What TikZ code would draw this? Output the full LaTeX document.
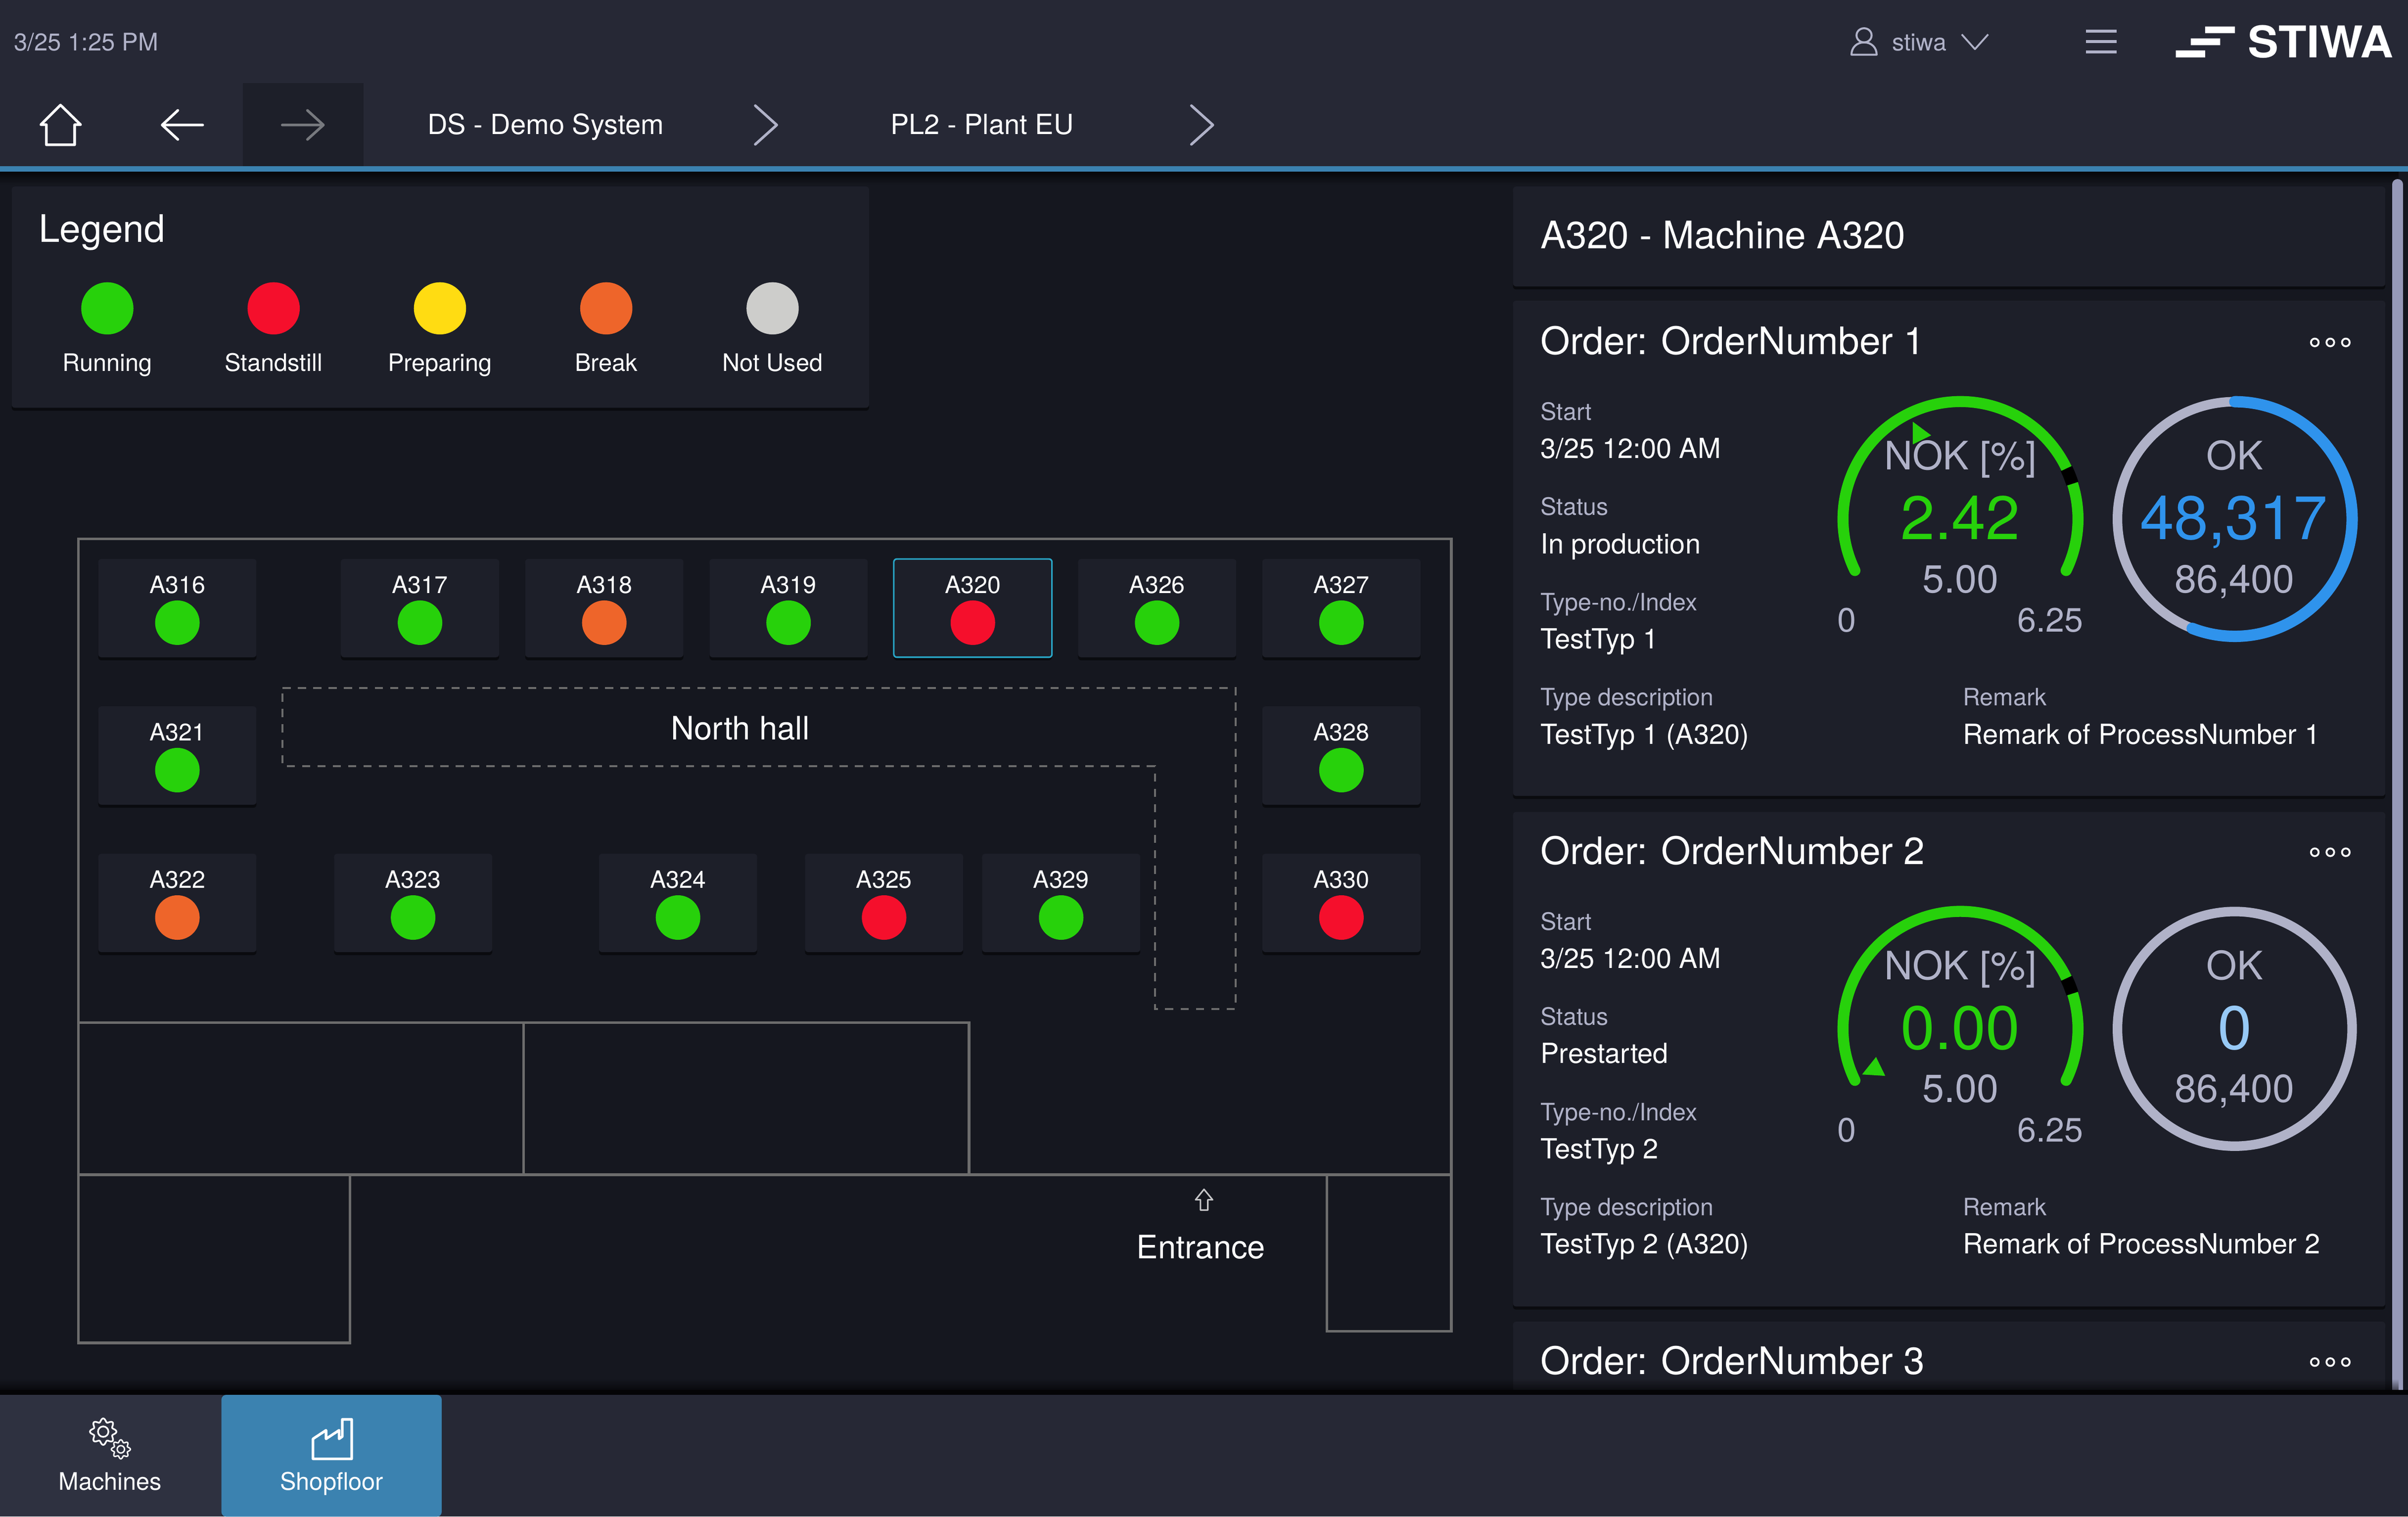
\documentclass[tikz,border=0pt]{standalone}
\usepackage{fontspec}
\setmainfont{TeX Gyre Heros}
\usetikzlibrary{positioning,shadows,fadings}

\definecolor{floorbg}{HTML}{15171F}
\definecolor{cardbg}{HTML}{1D1F29}
\definecolor{barbg}{HTML}{262835}
\definecolor{tabbg}{HTML}{2E3140}
\definecolor{accent}{HTML}{3B82B0}
\definecolor{muted}{HTML}{B0B2C8}
\definecolor{scrollc}{HTML}{9699B8}
\definecolor{planline}{HTML}{6C6C6C}
\definecolor{runc}{HTML}{27D10B}
\definecolor{stopc}{HTML}{F50F2C}
\definecolor{prepc}{HTML}{FFDC12}
\definecolor{breakc}{HTML}{EE652A}
\definecolor{idlec}{HTML}{CDCDCB}
\definecolor{okblue}{HTML}{2F93EC}

\begin{document}
\begin{tikzpicture}[x=1pt,y=-1pt,node distance=120pt,on grid,
  txt/.style={font=\fontsize{#1}{#1}\selectfont,inner sep=0pt,text height=0.72*#1pt,text depth=0pt,text=white},
  lbl/.style={txt=15.6,text=muted,anchor=west},
  val/.style={txt=18.05,anchor=west},
  head/.style={txt=24.7,anchor=west},
  dial/.style={txt=25.5,text=muted},
  scale text/.style={txt=22,text=muted},
  card/.style={rectangle,fill=cardbg,rounded corners=2pt,anchor=north west,inner sep=0pt,
    drop shadow={shadow xshift=0pt,shadow yshift=-2pt,fill=black,opacity=.5}},
  lamp/.style={circle,fill=#1,inner sep=0pt,minimum size=29pt},
  leglamp/.style={circle,fill=#1,inner sep=0pt,minimum size=34pt},
  machine/.style={card,anchor=center,minimum width=103pt,minimum height=64pt,
    font=\fontsize{15.6}{15.6}\selectfont,text=white,text height=12pt,text depth=31.4pt,
    label={[lamp=#1,yshift=-9.5pt]center:{}}},
  plan/.style={draw=planline,line width=1.7pt},
  hall/.style={draw=planline,line width=1.4pt,dash pattern=on 5.3pt off 4.7pt},
  navline/.style={line width=1.7pt,line cap=round,line join=round},
  arcgreen/.style={draw=runc,line width=7.2pt,line cap=round},
  morepoint/.style={circle,draw=white,line width=1.2pt,inner sep=0pt,minimum size=5pt}]

  \useasboundingbox (0,0) rectangle (1568,987.6);
  \fill[floorbg] (0,0) rectangle (1568,987.6);

  % top bar
  \fill[barbg] (0,0) rectangle (1568,108.3);
  \fill[cardbg] (158,54.2) rectangle (236.6,108.3);
  \fill[accent] (0,108.3) rectangle (1568,111.8);
  \fill[black,path fading=south,opacity=.7] (0,111.8) rectangle (1568,120);
  \path
  node[txt=15.8,text=muted,anchor=west] (clock) at (9,27.3) {3/25 1:25 PM}
  node[txt=18.05] (crumbDS) at (355.3,81) {DS - Demo System}
  node[txt=18.05] (crumbPL) at (639.5,81) {PL2 - Plant EU}
  node[txt=15.6,text=muted,anchor=west] (user) at (1232,27.3) {stiwa}
  node[txt=28.5,font=\fontsize{28.5}{28.5}\selectfont\bfseries] (brand) at (1511.2,27.4) {\scalebox{1.05}[1]{STIWA}}
  ;
  \draw[white,navline] (30.2,94.3) -- (48.6,94.3) -- (48.6,81.2) -- (52.5,81.2) -- (39.4,68.4) -- (26.6,81.2) -- (30.2,81.2) -- cycle;
  \draw[white,navline] (132,81.4) -- (105.6,81.4) (115.8,71.9) -- (105.6,81.4) -- (115.8,90.8);
  \draw[white!40!cardbg,navline] (183.8,81.4) -- (210.6,81.4) (200.2,71.9) -- (210.6,81.4) -- (200.2,90.8);
  \draw[muted,navline] (491.8,68.8) -- (505.8,81.4) -- (491.8,94);
  \draw[muted,navline] (775.8,68.8) -- (789.8,81.4) -- (775.8,94);
  \draw[muted,line width=1.3pt] (1213.8,23) ellipse (4.9 and 4.6);
  \draw[muted,line width=1.3pt,line join=round] (1205.6,35.6) .. controls (1205.6,31) and (1209,27.6) .. (1213.8,27.6) .. controls (1218.6,27.6) and (1222,31) .. (1222,35.6) -- cycle;
  \draw[muted,line width=1.2pt,line join=round] (1277.4,22.4) -- (1286,32) -- (1294.6,22.4);
  \draw[muted,line width=2pt] (1358.3,20.4) -- (1378.2,20.4) (1358.3,27) -- (1378.2,27) (1358.3,33.8) -- (1378.2,33.8);
  \fill[white] (1416.8,32.8) rectangle (1435.9,37.4) (1426.5,25) rectangle (1445.7,29.4) (1435.9,17.3) rectangle (1455.3,21.6);

  % legend
  \node[card,minimum width=558.3pt,minimum height=144pt] (legendcard) at (7.4,121.3) {};
  \path
  node[head] (legendhead) at (25,148.7) {Legend}
  node[leglamp=runc] (legrun) at (69.9,200.8) {}
  node[leglamp=stopc] (legstop) [right=108.3pt of legrun] {}
  node[leglamp=prepc] (legprep) [right=108.3pt of legstop] {}
  node[leglamp=breakc] (legbreak) [right=108.3pt of legprep] {}
  node[leglamp=idlec] (legidle) [right=108.3pt of legbreak] {}
  node[txt=15.7] (legruntxt) [below=35.3pt of legrun] {Running}
  node[txt=15.7] (legstoptxt) [below=35.3pt of legstop] {Standstill}
  node[txt=15.7] (legpreptxt) [below=35.3pt of legprep] {Preparing}
  node[txt=15.7] (legbreaktxt) [below=35.3pt of legbreak] {Break}
  node[txt=15.7] (legidletxt) [below=35.3pt of legidle] {Not Used}
  ;

  % floor plan
  \draw[plan] (51,765) -- (51,351) -- (945,351) -- (945,867) -- (864,867) -- (864,765);
  \draw[plan] (51,666) -- (631,666) -- (631,765) (341,666) -- (341,765);
  \draw[plan] (945,765) -- (51,765) -- (51,874.5) -- (228,874.5) -- (228,765);
  \draw[hall] (184,448) -- (804.5,448) -- (804.5,657) -- (752,657) -- (752,499) -- (184,499) -- cycle;
  \draw[white!75!floorbg,line width=1pt,line join=round] (781.7,788) -- (786.5,788) -- (786.5,781.3) -- (789.6,781.3) -- (784,774.5) -- (778.5,781.3) -- (781.7,781.3) -- cycle;
  \path
  node[txt=21] (northhall) at (482,474) {North hall}
  node[txt=21] (entrance) at (782,812) {Entrance}
  ;

  % machines
  \path
  node[machine=runc] (a316) at (115.5,396) {A316}
  node[machine=runc] (a317) at (273.5,396) {A317}
  node[machine=breakc] (a318) [right=of a317] {A318}
  node[machine=runc] (a319) [right=of a318] {A319}
  node[machine=stopc,draw=accent!70!cyan,line width=1pt] (a320) [right=of a319] {A320}
  node[machine=runc] (a326) [right=of a320] {A326}
  node[machine=runc] (a327) [right=of a326] {A327}
  node[machine=runc] (a321) [below=96pt of a316] {A321}
  node[machine=runc] (a328) [below=96pt of a327] {A328}
  node[machine=breakc] (a322) [below=96pt of a321] {A322}
  node[machine=runc] (a323) at (269,588) {A323}
  node[machine=runc] (a324) at (441.5,588) {A324}
  node[machine=stopc] (a325) at (575.7,588) {A325}
  node[machine=runc] (a329) at (691,588) {A329}
  node[machine=stopc] (a330) [below=96pt of a328] {A330}
  ;

  % right column
  \node[card,minimum width=568pt,minimum height=65pt] (titlecard) at (985,121.3) {};
  \node[card,minimum width=568pt,minimum height=322.5pt] (order1) at (985,195.6) {};
  \node[card,minimum width=568pt,minimum height=322pt] (order2) at (985,528.6) {};
  \node[card,minimum width=568pt,minimum height=80pt] (order3) at (985,860.5) {};
  \node[head] (titletxt) at (1003,153) {A320 - Machine A320};

  % first order
  \path
  node[head] (head1) at (1003,222) {Order: OrderNumber 1}
  node[morepoint] (more1a) at (1507.3,223) {}
  node[morepoint] (more1b) at (1517.4,223) {}
  node[morepoint] (more1c) at (1527.5,223) {}
  node[lbl] (start1) at (1003,268) {Start}
  node[val] (start1v) at (1003,292) {3/25 12:00 AM}
  node[lbl] (status1) at (1003,330) {Status}
  node[val] (status1v) at (1003,354) {In production}
  node[lbl] (type1) at (1003,392) {Type-no./Index}
  node[val] (type1v) at (1003,416) {TestTyp 1}
  node[lbl] (desc1) at (1003,454) {Type description}
  node[val] (desc1v) at (1003,478) {TestTyp 1 (A320)}
  node[lbl] (remark1) at (1278,454) {Remark}
  node[val] (remark1v) at (1278,478) {Remark of ProcessNumber 1}
  ;
  \coordinate (gauge1) at (1276.6,338);
  \coordinate (ring1) at (1455.2,338);
  \draw[arcgreen] (gauge1) ++(-206:76.5) arc[start angle=-206,end angle=26,radius=76.5];
  \draw[black,line width=8.2pt] (gauge1) ++(-25.5:76.4) arc[start angle=-25.5,end angle=-17.5,radius=76.4];
  \fill[runc] (1245.5,274.6) -- (1257.5,283.5) -- (1245.5,289.4) -- cycle;
  \draw[muted,line width=6.2pt] (ring1) circle (76.4);
  \draw[okblue,line width=7.4pt,line cap=round] (ring1) ++(-90:76.4) arc[start angle=-90,end angle=111.3,radius=76.4];
  \path
  node[dial] (nok1) at (1276.5,296.7) {NOK [\%]}
  node[txt=40,text=runc] (nok1v) at (1276.5,337) {2.42}
  node[dial] (nok1t) at (1276.5,376.7) {5.00}
  node[scale text] (nok1min) at (1202.5,403.6) {0}
  node[scale text] (nok1max) at (1335,403.6) {6.25}
  node[dial] (ok1) at (1455.2,296.7) {OK}
  node[txt=40,text=okblue] (ok1v) at (1454.6,337) {48,317}
  node[dial] (ok1t) at (1455.2,376.7) {86,400}
  ;

  % second order
  \path
  node[head] (head2) at (1003,554) {Order: OrderNumber 2}
  node[morepoint] (more2a) at (1507.3,555) {}
  node[morepoint] (more2b) at (1517.4,555) {}
  node[morepoint] (more2c) at (1527.5,555) {}
  node[lbl] (start2) at (1003,600) {Start}
  node[val] (start2v) at (1003,624) {3/25 12:00 AM}
  node[lbl] (status2) at (1003,662) {Status}
  node[val] (status2v) at (1003,686) {Prestarted}
  node[lbl] (type2) at (1003,724) {Type-no./Index}
  node[val] (type2v) at (1003,748) {TestTyp 2}
  node[lbl] (desc2) at (1003,786) {Type description}
  node[val] (desc2v) at (1003,810) {TestTyp 2 (A320)}
  node[lbl] (remark2) at (1278,786) {Remark}
  node[val] (remark2v) at (1278,810) {Remark of ProcessNumber 2}
  ;
  \coordinate (gauge2) at (1276.6,670);
  \coordinate (ring2) at (1455.2,670);
  \draw[arcgreen] (gauge2) ++(-206:76.5) arc[start angle=-206,end angle=26,radius=76.5];
  \draw[black,line width=8.2pt] (gauge2) ++(-25.5:76.4) arc[start angle=-25.5,end angle=-17.5,radius=76.4];
  \fill[runc] (1221.6,688.3) -- (1212.5,699.7) -- (1227.6,700.6) -- cycle;
  \draw[muted,line width=6.2pt] (ring2) circle (76.4);
  \path
  node[dial] (nok2) at (1276.5,628.7) {NOK [\%]}
  node[txt=40,text=runc] (nok2v) at (1276.5,669) {0.00}
  node[dial] (nok2t) at (1276.5,708.7) {5.00}
  node[scale text] (nok2min) at (1202.5,735.6) {0}
  node[scale text] (nok2max) at (1335,735.6) {6.25}
  node[dial] (ok2) at (1455.2,628.7) {OK}
  node[txt=40,text=okblue!50!white] (ok2v) at (1455.2,669) {0}
  node[dial] (ok2t) at (1455.2,708.7) {86,400}
  ;

  % third order, cut by the bottom bar
  \path
  node[head] (head3) at (1003,886) {Order: OrderNumber 3}
  node[morepoint] (more3a) at (1507.3,887) {}
  node[morepoint] (more3b) at (1517.4,887) {}
  node[morepoint] (more3c) at (1527.5,887) {}
  ;
  \draw[scrollc,line width=6.8pt,line cap=round] (1561.2,120) -- (1561.2,905);

  % bottom bar
  \fill[black,path fading=north,opacity=.8] (0,898) rectangle (1568,908.3);
  \fill[floorbg] (0,905) rectangle (1568,908.3);
  \fill[black,opacity=.8] (0,905) rectangle (1568,908.3);
  \fill[barbg] (0,908.3) rectangle (1568,987.6);
  \fill[tabbg] (0,908.3) rectangle (144.2,987.6);
  \node[fill=accent,rounded corners=3pt,inner sep=0pt,minimum width=143.4pt,minimum height=79.3pt] (shopfloortab) at (215.9,948) {};
  \draw[white,line width=1.1pt] plot[domain=0:360,samples=145] ({67.2+8.6*(0.87+0.13*cos(8*\x))*cos(\x)},{932.3+8.6*(0.87+0.13*cos(8*\x))*sin(\x)}) -- cycle;
  \draw[white,line width=1.1pt] (67.2,932.3) circle (3.4);
  \draw[white,line width=0.9pt] plot[domain=0:360,samples=145] ({78.7+6.2*(0.87+0.13*cos(8*\x))*cos(\x)},{943.8+6.2*(0.87+0.13*cos(8*\x))*sin(\x)}) -- cycle;
  \draw[white,line width=0.9pt] (78.7,943.8) circle (2.4);
  \draw[white,line width=1.7pt,line join=round] (203.8,950) -- (203.8,937) -- (212.3,931.4) -- (212.3,937) -- (220.8,931.4) -- (220.8,937) -- (222.9,935.5) -- (222.9,924.3) -- (229,924.3) -- (229,950) -- cycle;
  \path
  node[txt=15.7] (machinestxt) at (71.8,964.7) {Machines}
  node[txt=15.7] (shopfloortxt) at (216,964.7) {Shopfloor}
  ;
\end{tikzpicture}
\end{document}
